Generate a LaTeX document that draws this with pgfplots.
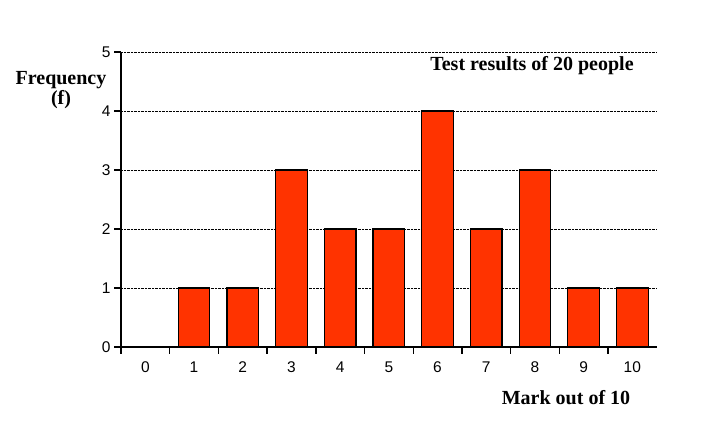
\documentclass[border=0pt]{standalone}
\usepackage{pgfplots}
\pgfplotsset{compat=1.18}
\usepackage{fontspec}
\setmainfont{Liberation Serif}
\newfontfamily\ticksans{Liberation Sans}
\definecolor{barred}{HTML}{FF3300}

\begin{document}
\begin{tikzpicture}[x=1pt,y=1pt]
  \path[use as bounding box] (0,0) rectangle (721,423);
  \begin{axis}[
      at={(121pt,76pt)}, anchor=south west,
      scale only axis,
      width=535.7pt, height=295pt,
      xmin=-0.5, xmax=10.5,
      ymin=0, ymax=5,
      axis x line=bottom, axis y line=left,
      axis line style={-, line width=1.4pt},
      xtick={0,...,10},
      minor xtick={-0.5,0.5,...,9.5},
      ytick={0,...,5},
      tick align=outside,
      major tick length=7pt,
      minor tick length=7pt,
      every tick/.style={black, line width=1.4pt},
      major x tick style={draw=none},
      ymajorgrids,
      grid style={black, densely dotted, line width=0.8pt},
      /pgf/number format/assume math mode=true,
      ticklabel style={font=\ticksans\fontsize{15.5}{17}\selectfont},
      xticklabel style={yshift=-4pt},
      ybar, bar width=0.65,
    ]
    \addplot[fill=barred, draw=black, line width=1.2pt] coordinates {
      (0,0) (1,1) (2,1) (3,3) (4,2) (5,2) (6,4) (7,2) (8,3) (9,1) (10,1)
    };
  \end{axis}
  \node[font=\bfseries\fontsize{20}{22}\selectfont] at (61,343) {Frequency};
  \node[font=\bfseries\fontsize{20}{22}\selectfont] at (61,323) {(f)};
  \node[font=\bfseries\fontsize{20}{22}\selectfont] at (532,357) {Test results of 20 people};
  \node[font=\bfseries\fontsize{20}{22}\selectfont] at (566,25) {Mark out of 10};
\end{tikzpicture}
\end{document}
